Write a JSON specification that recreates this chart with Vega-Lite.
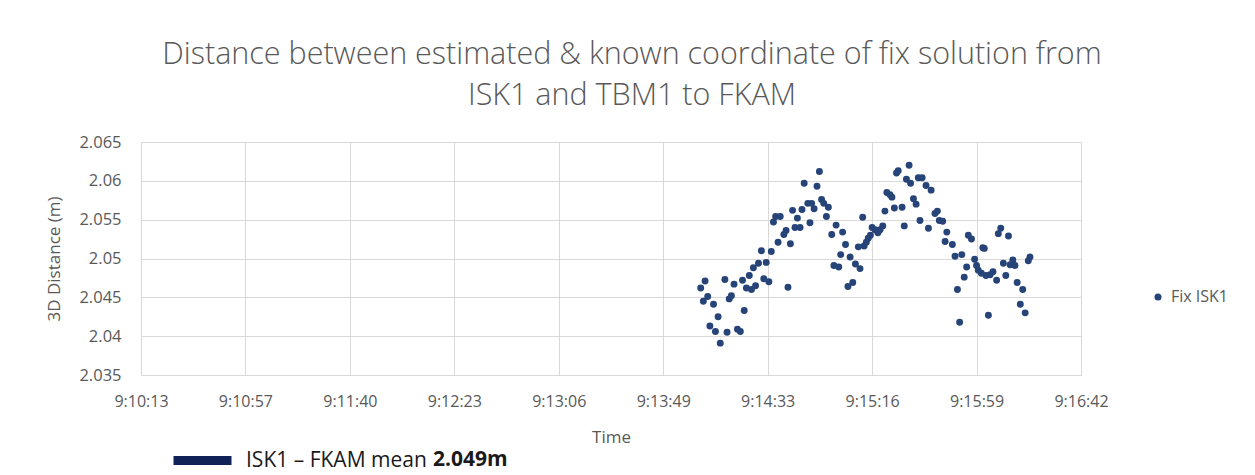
{
  "$schema": "https://vega.github.io/schema/vega-lite/v6.json",
  "width": 940,
  "height": 233,
  "autosize": {"type": "none"},
  "padding": {"left": 141, "top": 142, "right": 174, "bottom": 100},
  "background": "white",
  "config": {"font": "Open Sans", "view": {"stroke": null}},
  "title": {
    "text": ["Distance between estimated & known coordinate of fix solution from", "ISK1 and TBM1 to FKAM"],
    "fontSize": 30.5,
    "fontWeight": 300,
    "color": "#595959",
    "lineHeight": 41,
    "anchor": "middle",
    "frame": "group",
    "baseline": "bottom",
    "dx": 21,
    "offset": -7
  },
  "layer": [
    {
      "data": {
        "format": {"parse": {"time": "utc:'%H:%M:%S.%L'"}},
        "values": [
          {"time": "9:14:04.900", "distance": 2.0462, "series": "Fix ISK1"},
          {"time": "9:14:06.000", "distance": 2.0445, "series": "Fix ISK1"},
          {"time": "9:14:06.700", "distance": 2.0471, "series": "Fix ISK1"},
          {"time": "9:14:07.800", "distance": 2.0451, "series": "Fix ISK1"},
          {"time": "9:14:08.700", "distance": 2.0413, "series": "Fix ISK1"},
          {"time": "9:14:10.200", "distance": 2.0441, "series": "Fix ISK1"},
          {"time": "9:14:11.000", "distance": 2.0406, "series": "Fix ISK1"},
          {"time": "9:14:12.100", "distance": 2.0425, "series": "Fix ISK1"},
          {"time": "9:14:13.000", "distance": 2.0391, "series": "Fix ISK1"},
          {"time": "9:14:14.900", "distance": 2.0473, "series": "Fix ISK1"},
          {"time": "9:14:15.800", "distance": 2.0405, "series": "Fix ISK1"},
          {"time": "9:14:16.700", "distance": 2.0448, "series": "Fix ISK1"},
          {"time": "9:14:17.600", "distance": 2.0452, "series": "Fix ISK1"},
          {"time": "9:14:18.700", "distance": 2.0467, "series": "Fix ISK1"},
          {"time": "9:14:20.100", "distance": 2.0409, "series": "Fix ISK1"},
          {"time": "9:14:21.300", "distance": 2.0406, "series": "Fix ISK1"},
          {"time": "9:14:22.200", "distance": 2.0472, "series": "Fix ISK1"},
          {"time": "9:14:22.900", "distance": 2.0433, "series": "Fix ISK1"},
          {"time": "9:14:23.800", "distance": 2.0462, "series": "Fix ISK1"},
          {"time": "9:14:25.000", "distance": 2.0478, "series": "Fix ISK1"},
          {"time": "9:14:25.900", "distance": 2.0460, "series": "Fix ISK1"},
          {"time": "9:14:26.700", "distance": 2.0488, "series": "Fix ISK1"},
          {"time": "9:14:27.600", "distance": 2.0465, "series": "Fix ISK1"},
          {"time": "9:14:28.800", "distance": 2.0494, "series": "Fix ISK1"},
          {"time": "9:14:30.000", "distance": 2.0510, "series": "Fix ISK1"},
          {"time": "9:14:31.000", "distance": 2.0474, "series": "Fix ISK1"},
          {"time": "9:14:32.000", "distance": 2.0495, "series": "Fix ISK1"},
          {"time": "9:14:33.100", "distance": 2.0470, "series": "Fix ISK1"},
          {"time": "9:14:34.100", "distance": 2.0509, "series": "Fix ISK1"},
          {"time": "9:14:35.000", "distance": 2.0547, "series": "Fix ISK1"},
          {"time": "9:14:35.900", "distance": 2.0554, "series": "Fix ISK1"},
          {"time": "9:14:36.900", "distance": 2.0521, "series": "Fix ISK1"},
          {"time": "9:14:37.800", "distance": 2.0554, "series": "Fix ISK1"},
          {"time": "9:14:39.300", "distance": 2.0531, "series": "Fix ISK1"},
          {"time": "9:14:40.200", "distance": 2.0536, "series": "Fix ISK1"},
          {"time": "9:14:41.000", "distance": 2.0463, "series": "Fix ISK1"},
          {"time": "9:14:42.000", "distance": 2.0519, "series": "Fix ISK1"},
          {"time": "9:14:42.900", "distance": 2.0562, "series": "Fix ISK1"},
          {"time": "9:14:43.900", "distance": 2.0540, "series": "Fix ISK1"},
          {"time": "9:14:44.900", "distance": 2.0552, "series": "Fix ISK1"},
          {"time": "9:14:46.000", "distance": 2.0540, "series": "Fix ISK1"},
          {"time": "9:14:46.800", "distance": 2.0563, "series": "Fix ISK1"},
          {"time": "9:14:47.700", "distance": 2.0597, "series": "Fix ISK1"},
          {"time": "9:14:49.200", "distance": 2.0571, "series": "Fix ISK1"},
          {"time": "9:14:50.100", "distance": 2.0546, "series": "Fix ISK1"},
          {"time": "9:14:50.800", "distance": 2.0571, "series": "Fix ISK1"},
          {"time": "9:14:51.800", "distance": 2.0564, "series": "Fix ISK1"},
          {"time": "9:14:53.000", "distance": 2.0593, "series": "Fix ISK1"},
          {"time": "9:14:54.000", "distance": 2.0612, "series": "Fix ISK1"},
          {"time": "9:14:54.900", "distance": 2.0576, "series": "Fix ISK1"},
          {"time": "9:14:55.800", "distance": 2.0571, "series": "Fix ISK1"},
          {"time": "9:14:56.900", "distance": 2.0554, "series": "Fix ISK1"},
          {"time": "9:14:57.700", "distance": 2.0566, "series": "Fix ISK1"},
          {"time": "9:14:59.100", "distance": 2.0531, "series": "Fix ISK1"},
          {"time": "9:15:00.000", "distance": 2.0491, "series": "Fix ISK1"},
          {"time": "9:15:00.900", "distance": 2.0543, "series": "Fix ISK1"},
          {"time": "9:15:02.000", "distance": 2.0489, "series": "Fix ISK1"},
          {"time": "9:15:02.800", "distance": 2.0505, "series": "Fix ISK1"},
          {"time": "9:15:03.600", "distance": 2.0534, "series": "Fix ISK1"},
          {"time": "9:15:04.800", "distance": 2.0518, "series": "Fix ISK1"},
          {"time": "9:15:05.800", "distance": 2.0464, "series": "Fix ISK1"},
          {"time": "9:15:06.700", "distance": 2.0502, "series": "Fix ISK1"},
          {"time": "9:15:07.800", "distance": 2.0469, "series": "Fix ISK1"},
          {"time": "9:15:08.900", "distance": 2.0493, "series": "Fix ISK1"},
          {"time": "9:15:10.100", "distance": 2.0515, "series": "Fix ISK1"},
          {"time": "9:15:10.800", "distance": 2.0487, "series": "Fix ISK1"},
          {"time": "9:15:11.900", "distance": 2.0553, "series": "Fix ISK1"},
          {"time": "9:15:12.500", "distance": 2.0516, "series": "Fix ISK1"},
          {"time": "9:15:13.400", "distance": 2.0521, "series": "Fix ISK1"},
          {"time": "9:15:14.200", "distance": 2.0526, "series": "Fix ISK1"},
          {"time": "9:15:15.100", "distance": 2.0530, "series": "Fix ISK1"},
          {"time": "9:15:15.800", "distance": 2.0540, "series": "Fix ISK1"},
          {"time": "9:15:17.000", "distance": 2.0537, "series": "Fix ISK1"},
          {"time": "9:15:18.200", "distance": 2.0533, "series": "Fix ISK1"},
          {"time": "9:15:19.100", "distance": 2.0537, "series": "Fix ISK1"},
          {"time": "9:15:20.200", "distance": 2.0542, "series": "Fix ISK1"},
          {"time": "9:15:21.100", "distance": 2.0561, "series": "Fix ISK1"},
          {"time": "9:15:21.900", "distance": 2.0585, "series": "Fix ISK1"},
          {"time": "9:15:23.200", "distance": 2.0582, "series": "Fix ISK1"},
          {"time": "9:15:24.000", "distance": 2.0579, "series": "Fix ISK1"},
          {"time": "9:15:25.000", "distance": 2.0565, "series": "Fix ISK1"},
          {"time": "9:15:25.900", "distance": 2.0610, "series": "Fix ISK1"},
          {"time": "9:15:26.600", "distance": 2.0613, "series": "Fix ISK1"},
          {"time": "9:15:28.200", "distance": 2.0566, "series": "Fix ISK1"},
          {"time": "9:15:29.100", "distance": 2.0542, "series": "Fix ISK1"},
          {"time": "9:15:30.000", "distance": 2.0602, "series": "Fix ISK1"},
          {"time": "9:15:31.100", "distance": 2.0620, "series": "Fix ISK1"},
          {"time": "9:15:31.700", "distance": 2.0597, "series": "Fix ISK1"},
          {"time": "9:15:32.900", "distance": 2.0577, "series": "Fix ISK1"},
          {"time": "9:15:34.000", "distance": 2.0570, "series": "Fix ISK1"},
          {"time": "9:15:34.900", "distance": 2.0604, "series": "Fix ISK1"},
          {"time": "9:15:35.600", "distance": 2.0549, "series": "Fix ISK1"},
          {"time": "9:15:36.500", "distance": 2.0604, "series": "Fix ISK1"},
          {"time": "9:15:38.100", "distance": 2.0594, "series": "Fix ISK1"},
          {"time": "9:15:39.100", "distance": 2.0539, "series": "Fix ISK1"},
          {"time": "9:15:40.200", "distance": 2.0588, "series": "Fix ISK1"},
          {"time": "9:15:41.800", "distance": 2.0558, "series": "Fix ISK1"},
          {"time": "9:15:42.800", "distance": 2.0561, "series": "Fix ISK1"},
          {"time": "9:15:43.600", "distance": 2.0549, "series": "Fix ISK1"},
          {"time": "9:15:45.000", "distance": 2.0548, "series": "Fix ISK1"},
          {"time": "9:15:46.000", "distance": 2.0522, "series": "Fix ISK1"},
          {"time": "9:15:46.700", "distance": 2.0534, "series": "Fix ISK1"},
          {"time": "9:15:49.000", "distance": 2.0518, "series": "Fix ISK1"},
          {"time": "9:15:50.100", "distance": 2.0503, "series": "Fix ISK1"},
          {"time": "9:15:51.100", "distance": 2.0460, "series": "Fix ISK1"},
          {"time": "9:15:52.000", "distance": 2.0418, "series": "Fix ISK1"},
          {"time": "9:15:52.900", "distance": 2.0505, "series": "Fix ISK1"},
          {"time": "9:15:53.900", "distance": 2.0476, "series": "Fix ISK1"},
          {"time": "9:15:54.900", "distance": 2.0489, "series": "Fix ISK1"},
          {"time": "9:15:55.600", "distance": 2.0530, "series": "Fix ISK1"},
          {"time": "9:15:56.900", "distance": 2.0525, "series": "Fix ISK1"},
          {"time": "9:15:58.200", "distance": 2.0499, "series": "Fix ISK1"},
          {"time": "9:15:59.000", "distance": 2.0491, "series": "Fix ISK1"},
          {"time": "9:15:59.700", "distance": 2.0485, "series": "Fix ISK1"},
          {"time": "9:16:01.000", "distance": 2.0481, "series": "Fix ISK1"},
          {"time": "9:16:01.600", "distance": 2.0514, "series": "Fix ISK1"},
          {"time": "9:16:02.200", "distance": 2.0513, "series": "Fix ISK1"},
          {"time": "9:16:02.900", "distance": 2.0478, "series": "Fix ISK1"},
          {"time": "9:16:03.900", "distance": 2.0427, "series": "Fix ISK1"},
          {"time": "9:16:04.600", "distance": 2.0479, "series": "Fix ISK1"},
          {"time": "9:16:05.800", "distance": 2.0483, "series": "Fix ISK1"},
          {"time": "9:16:07.300", "distance": 2.0472, "series": "Fix ISK1"},
          {"time": "9:16:08.000", "distance": 2.0532, "series": "Fix ISK1"},
          {"time": "9:16:09.000", "distance": 2.0539, "series": "Fix ISK1"},
          {"time": "9:16:10.100", "distance": 2.0494, "series": "Fix ISK1"},
          {"time": "9:16:11.100", "distance": 2.0478, "series": "Fix ISK1"},
          {"time": "9:16:12.200", "distance": 2.0529, "series": "Fix ISK1"},
          {"time": "9:16:12.900", "distance": 2.0492, "series": "Fix ISK1"},
          {"time": "9:16:14.000", "distance": 2.0498, "series": "Fix ISK1"},
          {"time": "9:16:14.900", "distance": 2.0491, "series": "Fix ISK1"},
          {"time": "9:16:15.800", "distance": 2.0469, "series": "Fix ISK1"},
          {"time": "9:16:17.100", "distance": 2.0441, "series": "Fix ISK1"},
          {"time": "9:16:18.100", "distance": 2.0460, "series": "Fix ISK1"},
          {"time": "9:16:19.100", "distance": 2.0430, "series": "Fix ISK1"},
          {"time": "9:16:20.400", "distance": 2.0497, "series": "Fix ISK1"},
          {"time": "9:16:21.100", "distance": 2.0502, "series": "Fix ISK1"}
        ]
      },
      "mark": {"type": "circle", "size": 48, "opacity": 1},
      "encoding": {
        "x": {
          "field": "time",
          "type": "temporal",
          "title": "Time",
          "scale": {
            "type": "utc",
            "domain": [
              {"year": 1900, "month": 1, "date": 1, "hours": 9, "minutes": 10, "seconds": 13, "milliseconds": 400, "utc": true},
              {"year": 1900, "month": 1, "date": 1, "hours": 9, "minutes": 16, "seconds": 42, "milliseconds": 200, "utc": true}
            ]
          },
          "axis": {
            "values": [
              {"year": 1900, "month": 1, "date": 1, "hours": 9, "minutes": 10, "seconds": 13, "milliseconds": 400, "utc": true},
              {"year": 1900, "month": 1, "date": 1, "hours": 9, "minutes": 10, "seconds": 56, "milliseconds": 600, "utc": true},
              {"year": 1900, "month": 1, "date": 1, "hours": 9, "minutes": 11, "seconds": 39, "milliseconds": 800, "utc": true},
              {"year": 1900, "month": 1, "date": 1, "hours": 9, "minutes": 12, "seconds": 23, "milliseconds": 0, "utc": true},
              {"year": 1900, "month": 1, "date": 1, "hours": 9, "minutes": 13, "seconds": 6, "milliseconds": 200, "utc": true},
              {"year": 1900, "month": 1, "date": 1, "hours": 9, "minutes": 13, "seconds": 49, "milliseconds": 400, "utc": true},
              {"year": 1900, "month": 1, "date": 1, "hours": 9, "minutes": 14, "seconds": 32, "milliseconds": 600, "utc": true},
              {"year": 1900, "month": 1, "date": 1, "hours": 9, "minutes": 15, "seconds": 15, "milliseconds": 800, "utc": true},
              {"year": 1900, "month": 1, "date": 1, "hours": 9, "minutes": 15, "seconds": 59, "milliseconds": 0, "utc": true},
              {"year": 1900, "month": 1, "date": 1, "hours": 9, "minutes": 16, "seconds": 42, "milliseconds": 200, "utc": true}
            ],
            "labelExpr": "utcFormat(datum.value + 500, '%-H:%M:%S')",
            "grid": true,
            "gridColor": "#d9d9d9",
            "gridWidth": 1,
            "domain": false,
            "ticks": false,
            "labelFlush": false,
            "labelOverlap": false,
            "labelFontSize": 16,
            "labelColor": "#595959",
            "labelPadding": 18,
            "titleFontSize": 17,
            "titleFontWeight": "normal",
            "titleColor": "#595959",
            "titlePadding": 20
          }
        },
        "y": {
          "field": "distance",
          "type": "quantitative",
          "title": "3D Distance (m)",
          "scale": {"domain": [2.035, 2.065], "zero": false, "nice": false},
          "axis": {
            "values": [2.035, 2.04, 2.045, 2.05, 2.055, 2.06, 2.065],
            "format": ".3~f",
            "grid": true,
            "gridColor": "#d9d9d9",
            "gridWidth": 1,
            "domain": false,
            "ticks": false,
            "labelFlush": false,
            "labelOverlap": false,
            "labelFontSize": 16.5,
            "labelColor": "#595959",
            "labelPadding": 20,
            "titleFontSize": 17,
            "titleFontWeight": "normal",
            "titleColor": "#595959",
            "titlePadding": 15
          }
        },
        "color": {
          "field": "series",
          "type": "nominal",
          "scale": {"range": ["#264478"]},
          "legend": {
            "orient": "none",
            "legendX": 1009,
            "legendY": 147,
            "title": null,
            "padding": 0,
            "symbolType": "circle",
            "symbolSize": 50,
            "labelFontSize": 16,
            "labelColor": "#595959",
            "labelOffset": 5
          }
        }
      }
    },
    {
      "data": {"values": [{"label": "ISK1 – FKAM mean", "mean": 2.049}]},
      "mark": {"type": "rule", "opacity": 0},
      "encoding": {
        "y": {
          "field": "mean",
          "type": "quantitative",
          "title": "3D Distance (m)",
          "axis": {
            "values": [2.035, 2.04, 2.045, 2.05, 2.055, 2.06, 2.065],
            "format": ".3~f",
            "grid": true,
            "gridColor": "#d9d9d9",
            "gridWidth": 1,
            "domain": false,
            "ticks": false,
            "labelFlush": false,
            "labelOverlap": false,
            "labelFontSize": 16.5,
            "labelColor": "#595959",
            "labelPadding": 20,
            "titleFontSize": 17,
            "titleFontWeight": "normal",
            "titleColor": "#595959",
            "titlePadding": 15
          }
        },
        "stroke": {
          "field": "label",
          "type": "nominal",
          "scale": {"range": ["#0e2257"]},
          "legend": {
            "orient": "none",
            "legendX": 28,
            "legendY": 285,
            "padding": 0,
            "title": "2.049m",
            "titleOrient": "right",
            "titleAnchor": "middle",
            "titleBaseline": "middle",
            "titleFontSize": 21,
            "titleFontWeight": "bold",
            "titleColor": "#1a1a1a",
            "titlePadding": 6,
            "labelFontSize": 21,
            "labelColor": "#1a1a1a",
            "labelOffset": 10,
            "labelLimit": 0,
            "symbolType": "stroke",
            "symbolSize": 3364,
            "symbolStrokeWidth": 9,
            "symbolOpacity": 1,
            "symbolStrokeColor": "#0e2257",
            "encode": {
              "symbols": {"update": {"opacity": {"value": 1}, "strokeOpacity": {"value": 1}, "strokeWidth": {"value": 9}, "stroke": {"value": "#0e2257"}}},
              "title": {"update": {"dy": {"value": 7}}}
            }
          }
        }
      }
    }
  ]
}
